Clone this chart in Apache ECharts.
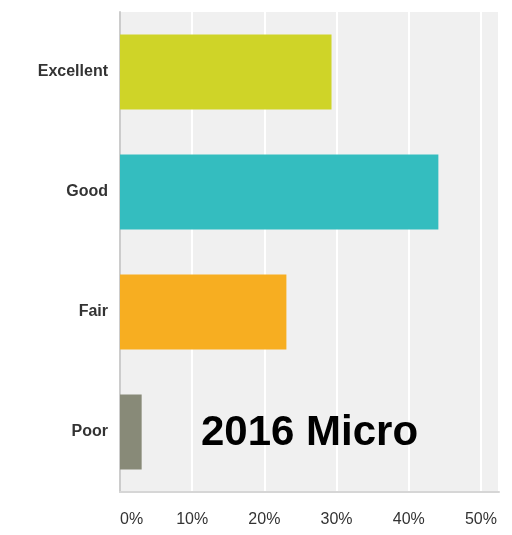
<!DOCTYPE html>
<html>
<head>
<meta charset="utf-8">
<script src="https://cdn.jsdelivr.net/npm/echarts@6/dist/echarts.min.js"></script>
<style>html,body{margin:0;padding:0;background:#fff}#c{width:512px;height:535px}</style>
</head>
<body>
<div id="c"></div>
<script>
const categories = ['Excellent', 'Good', 'Fair', 'Poor'];
const values = [29.3, 44.1, 23.05, 3.0];
const barColors = ['#cfd428', '#34bdbf', '#f7ae21', '#888a78'];
const tickValues = [0, 10, 20, 30, 40, 50];
const overlayText = '2016 Micro';

const chart = echarts.init(document.getElementById('c'), null, {renderer: 'canvas'});
chart.setOption({
  animation: false,
  grid: {left: 120, right: 13, top: 12, bottom: 43, show: true, backgroundColor: '#f0f0f0', borderWidth: 0},
  xAxis: {
    type: 'value', min: tickValues[0], max: 52.5, interval: 10,
    axisLine: {show: true, lineStyle: {color: '#d6d6d6', width: 2}},
    axisTick: {show: false},
    splitLine: {show: true, lineStyle: {color: '#ffffff', width: 2}},
    axisLabel: {
      formatter: v => v + '%', showMaxLabel: false, alignMinLabel: 'left',
      fontFamily: 'Liberation Sans, Arial, sans-serif', fontSize: 16, color: '#333', margin: 20
    }
  },
  yAxis: {
    type: 'category', data: categories, inverse: true,
    axisLine: {show: true, lineStyle: {color: '#cccccc', width: 2}},
    axisTick: {show: false},
    axisLabel: {fontFamily: 'Liberation Sans, Arial, sans-serif', fontSize: 16, fontWeight: 'bold', color: '#333', margin: 12}
  },
  series: [{
    type: 'bar', barWidth: 75,
    data: values.map((v, i) => ({value: v, itemStyle: {color: barColors[i]}})),
  }],
  graphic: [{
    type: 'text', left: 201, top: 412, z: 100, zlevel: 1,
    style: {text: overlayText, fontFamily: 'Liberation Sans, Arial, sans-serif', fontSize: 42, fontWeight: 'bold', fill: '#000'}
  }]
});
</script>
</body>
</html>
